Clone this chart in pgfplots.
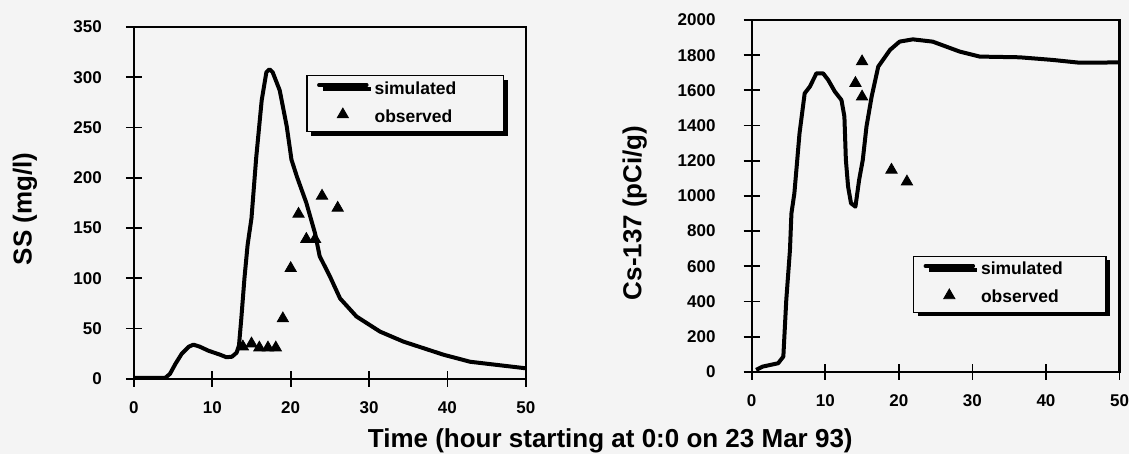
\documentclass[border=0pt]{standalone}
\usepackage{pgfplots}
\pgfplotsset{compat=1.18}
\usepackage{fontspec}
\setmainfont{Liberation Sans}
\usetikzlibrary{shadows}
\definecolor{bgc}{HTML}{F4F4F4}
\newcommand\ticfont{\fontsize{17}{20}\selectfont\bfseries}
\newcommand\labfont{\fontsize{26}{30}\selectfont\bfseries}
\newcommand\legfont{\fontsize{17.5}{20}\selectfont\bfseries}

\pgfplotsset{
  panel/.style={
    scale only axis,
    anchor=south west,
    height=352pt,
    xmin=0, xmax=50,
    xtick={0,10,...,50},
    ymin=0,
    axis line style={line width=2.2pt},
    tick style={line width=1.8pt, black},
    major tick length=16pt,
    tick align=center,
    xtick pos=bottom,
    ytick pos=left,
    ticklabel style={font=\ticfont},
    /pgf/number format/assume math mode=true,
    /pgf/number format/1000 sep={},
    yticklabel style={anchor=east, inner sep=0pt, xshift=-24pt},
    xticklabel style={anchor=north, inner sep=0pt, yshift=-15pt},
    ylabel style={font=\labfont, anchor=center, rotate=0},
    legend cell align=left,
    legend style={
      font=\legfont, fill=bgc, draw=black, line width=1.5pt,
      drop shadow={shadow xshift=4pt, shadow yshift=-4pt, fill=black, opacity=1},
      inner xsep=10pt, inner ysep=5.5pt,
      row sep=10pt, column sep=6pt,
      nodes={inner sep=0pt, text height=13pt, text depth=4pt},
    },
  },
  simline/.style={black, line width=4pt, line join=round,
    legend image code/.code={\draw[#1, line width=3.5pt, line cap=round] (0pt,4.5pt) -- (48pt,4.5pt);}},
  obsmark/.style={only marks, mark=triangle*, mark size=6.5pt, black,
    mark options={line width=0.8pt},
    legend image code/.code={\draw[#1, mark repeat=2, mark phase=2]
      plot coordinates {(0pt,3pt) (24pt,3pt) (48pt,3pt)};}},
}

\begin{document}
\begin{tikzpicture}
\fill[bgc] (0,0) rectangle (1129pt,454pt);

\begin{axis}[
    panel,
    at={(134pt,75pt)},
    width=392pt,
    ymax=350,
    ytick={0,50,...,350},
    ylabel={SS (mg/l)},
    ylabel style={at={(axis description cs:-0.278,0.483)}},
    legend style={at={(0.44,0.864)}, anchor=north west},
  ]
  \addplot[simline] coordinates {
    (0,1) (4,1) (4.6,5) (5.3,15) (6.1,25) (7.0,32) (7.6,34) (8.4,32)
    (9.5,28) (11,24) (11.8,21.5) (12.5,22) (13.1,26) (13.4,33) (13.7,60)
    (14.1,100) (14.5,133) (15,160) (15.6,220) (16.3,277) (16.9,305)
    (17.3,308) (17.7,305) (18.6,287) (19.5,251) (20.1,218) (20.8,201)
    (22.0,175) (23.1,145) (23.7,122) (25.0,102) (26.3,80) (28.4,62)
    (31.4,47) (34.4,37) (39.5,24) (42.9,17) (50,10.5)
  };
  \addlegendentry{\makebox[119pt][l]{simulated}}
  \addplot[obsmark] coordinates {
    (13.9,32) (15.0,35) (16.0,31) (17.1,31) (18.1,31)
    (19.0,60) (20.0,110) (21.0,164) (22.0,139) (23.1,139)
    (24.0,182) (26.0,170)
  };
  \addlegendentry{observed}
\end{axis}

\begin{axis}[
    panel,
    at={(752pt,82pt)},
    width=368pt,
    ymax=2000,
    ytick={0,200,...,2000},
    yticklabel style={xshift=-4pt},
    ylabel={Cs-137 (pCi/g)},
    ylabel style={at={(axis description cs:-0.318,0.452)}},
    legend style={at={(0.438,0.33)}, anchor=north west},
  ]
  \addplot[simline] coordinates {
    (0.6,11) (1.5,30) (3.6,49) (4.3,87) (4.7,409) (5.2,693) (5.4,901)
    (5.8,1015) (6.5,1356) (7.2,1583) (7.9,1621) (8.8,1697) (9.7,1697)
    (10.4,1659) (11.3,1593) (12.2,1545) (12.6,1451) (12.8,1205)
    (13.1,1053) (13.5,958) (14.1,939) (14.6,1091) (15.1,1205)
    (15.6,1394) (16.3,1564) (17.2,1735) (18.8,1830) (20.1,1877)
    (21.9,1890) (24.6,1877) (28.3,1820) (31.0,1792) (36.4,1788)
    (40.9,1773) (44.6,1757) (50,1759)
  };
  \addlegendentry{\makebox[115pt][l]{simulated}}
  \addplot[obsmark] coordinates {
    (14.1,1641) (15.0,1764) (15.0,1564) (19.0,1148) (21.1,1081)
  };
  \addlegendentry{observed}
\end{axis}

\node[font=\labfont, anchor=base] at (610.5pt,6pt)
  {Time (hour starting at 0:0 on 23 Mar 93)};
\end{tikzpicture}
\end{document}
